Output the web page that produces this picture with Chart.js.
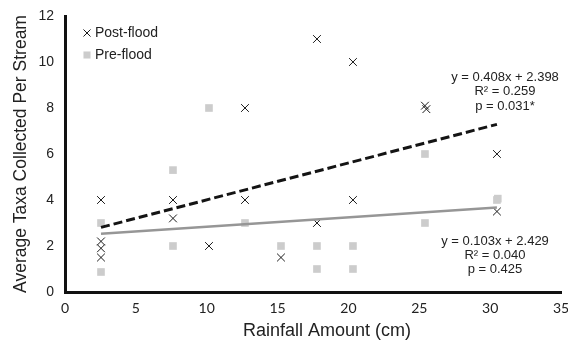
<!DOCTYPE html>
<html><head><meta charset="utf-8">
<script src="https://cdn.jsdelivr.net/npm/chart.js@4/dist/chart.umd.min.js"></script>
<style>html,body{margin:0;padding:0;background:#fff}#wrap{width:568px;height:347px}</style>
</head><body><div id="wrap"><canvas id="c" width="568" height="347"></canvas></div>
<script>
// ---- data ----
const seriesNames = ['Post-flood', 'Pre-flood'];
const rainfallPost = [2.54, 2.54, 2.54, 2.54, 7.62, 7.62, 10.16, 12.7, 12.7, 15.24, 17.78, 17.78, 20.32, 20.32, 25.4, 25.5, 30.48, 30.48];
const taxaPost     = [4.0, 2.2, 1.9, 1.5, 4.0, 3.2, 2.0, 8.0, 4.0, 1.5, 11.0, 3.0, 10.0, 4.0, 8.1, 7.95, 6.0, 3.5];
const rainfallPre  = [2.54, 2.54, 7.62, 7.62, 10.16, 12.7, 15.24, 17.78, 17.78, 20.32, 20.32, 25.4, 25.4, 30.48, 30.54];
const taxaPre      = [3.0, 0.87, 5.3, 2.0, 8.0, 3.0, 2.0, 2.0, 1.0, 2.0, 1.0, 6.0, 3.0, 4.0, 4.06];
const trendX       = [2.54, 30.48];
const trendPost    = [2.81, 7.29];
const trendPre     = [2.53, 3.67];
const xTicks = [0, 5, 10, 15, 20, 25, 30, 35];
const yTicks = [0, 2, 4, 6, 8, 10, 12];
const statsPost = ['y = 0.408x + 2.398', 'R\u00B2 = 0.259', 'p = 0.031*'];
const statsPre  = ['y = 0.103x + 2.429', 'R\u00B2 = 0.040', 'p = 0.425'];
const xTitle = 'Rainfall Amount (cm)';
const yTitle = 'Average Taxa Collected Per Stream';

const toPts = (xs, ys) => xs.map((x, i) => ({x: x, y: ys[i]}));

const TEXT = '#222';
const SANS = '"Liberation Sans", Arial, sans-serif';

const styles = {
  post: {pointStyle: 'crossRot', radius: 5.5, borderColor: '#1a1a1a', borderWidth: 1},
  pre:  {pointStyle: 'rect', radius: 5.4, color: '#cccccc'}
};

const extrasPlugin = {
  id: 'extras',
  afterDatasetsDraw(chart) {
    const ctx = chart.ctx, a = chart.chartArea;
    ctx.save();
    // legend
    const H = Chart.helpers;
    ctx.font = '14px ' + SANS;
    ctx.fillStyle = TEXT;
    ctx.textBaseline = 'middle';
    ctx.textAlign = 'left';
    const lx = a.left + 22, ly = a.top + 17;
    ctx.strokeStyle = styles.post.borderColor; ctx.lineWidth = 1;
    H.drawPoint(ctx, {pointStyle: 'crossRot', radius: 5, borderWidth: 1}, lx, ly);
    ctx.fillStyle = TEXT;
    ctx.fillText(chart.data.datasets[0].label, lx + 8, ly);
    ctx.fillStyle = styles.pre.color; ctx.strokeStyle = styles.pre.color;
    H.drawPoint(ctx, {pointStyle: 'rect', radius: 5, borderWidth: 0}, lx, ly + 22);
    ctx.fillStyle = TEXT;
    ctx.fillText(chart.data.datasets[1].label, lx + 8, ly + 22);
    // regression statistics
    ctx.font = '13px ' + SANS;
    ctx.textAlign = 'center';
    statsPost.forEach((t, i) => ctx.fillText(t, a.right - 56, a.top + 61 + i * 14.5));
    statsPre.forEach((t, i) => ctx.fillText(t, a.right - 66, a.top + 225 + i * 14));
    // x-axis title
    ctx.font = '18px ' + SANS;
    ctx.fillText(xTitle, (a.left + a.right) / 2 + 14, a.bottom + 39);
    ctx.restore();
  }
};

new Chart(document.getElementById('c'), {
  type: 'scatter',
  data: {
    datasets: [
      {label: seriesNames[0], data: toPts(rainfallPost, taxaPost), pointStyle: styles.post.pointStyle,
       pointRadius: styles.post.radius, borderColor: styles.post.borderColor, backgroundColor: styles.post.borderColor,
       pointBorderWidth: styles.post.borderWidth, order: 1},
      {label: seriesNames[1], data: toPts(rainfallPre, taxaPre), pointStyle: styles.pre.pointStyle,
       pointRadius: styles.pre.radius, borderColor: styles.pre.color, backgroundColor: styles.pre.color,
       pointBorderWidth: 0, order: 2},
      {label: 'Post-flood trend', type: 'line', data: toPts(trendX, trendPost), borderColor: '#141414',
       borderWidth: 3, borderDash: [9, 4], pointRadius: 0, fill: false, order: 0},
      {label: 'Pre-flood trend', type: 'line', data: toPts(trendX, trendPre), borderColor: '#969696',
       borderWidth: 2.5, pointRadius: 0, fill: false, order: 0}
    ]
  },
  options: {
    responsive: false,
    animation: false,
    devicePixelRatio: 1,
    layout: {padding: {left: 0, right: 7, top: 16, bottom: 0}},
    plugins: {legend: {display: false}, tooltip: {enabled: false}},
    scales: {
      x: {
        type: 'linear', min: xTicks[0], max: xTicks[xTicks.length - 1],
        afterBuildTicks: s => { s.ticks = xTicks.map(v => ({value: v})); },
        grid: {display: false, drawTicks: false},
        border: {display: true, color: '#111', width: 3},
        ticks: {color: TEXT, font: {family: 'Lato, "Open Sans", sans-serif', size: 14}, padding: 8, maxRotation: 0},
        title: {display: false, text: xTitle},
        afterFit: s => { s.height = 55; s.paddingLeft = 0; s.paddingRight = 0; }
      },
      y: {
        type: 'linear', min: yTicks[0], max: yTicks[yTicks.length - 1],
        afterBuildTicks: s => { s.ticks = yTicks.map(v => ({value: v})); },
        grid: {display: false, drawTicks: false},
        border: {display: true, color: '#111', width: 3},
        ticks: {color: TEXT, font: {family: SANS, size: 14}, padding: 11},
        title: {display: true, text: yTitle, color: TEXT, font: {family: SANS, size: 17.5}, padding: {top: 11, bottom: 0}},
        afterFit: s => { s.width = 65; s.paddingTop = 0; s.paddingBottom = 0; }
      }
    }
  },
  plugins: [extrasPlugin]
});
</script>
</body></html>
